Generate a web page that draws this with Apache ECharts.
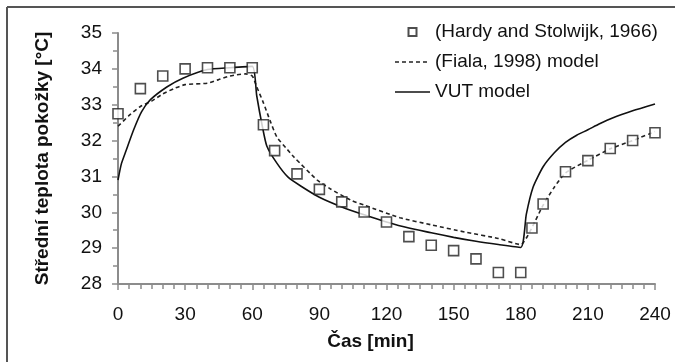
<!DOCTYPE html>
<html>
<head>
<meta charset="utf-8">
<script src="https://cdn.jsdelivr.net/npm/echarts@6/dist/echarts.min.js"></script>
<style>
  html, body { margin: 0; padding: 0; background: #fff; }
  #chart { width: 675px; height: 362px; }
</style>
</head>
<body>
<div id="chart"></div>
<script>
// měřená data (Hardy and Stolwijk, 1966)
const hardyTime = [0, 10, 20, 30, 40, 50, 60, 65, 70, 80, 90, 100, 110, 120, 130, 140, 150, 160, 170, 180, 185, 190, 200, 210, 220, 230, 240];
const hardyTemp = [32.75, 33.45, 33.8, 34.0, 34.03, 34.03, 34.03, 32.44, 31.72, 31.07, 30.64, 30.29, 30.01, 29.73, 29.32, 29.08, 28.93, 28.7, 28.32, 28.32, 29.56, 30.23, 31.13, 31.44, 31.78, 32.0, 32.22];

// model Fiala 1998 (čárkovaně)
const fialaTime = [0, 5, 10, 15, 20, 25, 30, 40, 45, 50, 57, 60, 62, 65, 68, 71, 75, 78.5, 89, 95, 104, 110, 126, 140, 155, 170, 180, 184, 190, 195, 200, 210, 220, 230, 240];
const fialaTemp = [32.4, 32.7, 32.95, 33.1, 33.3, 33.45, 33.56, 33.6, 33.7, 33.8, 33.86, 33.8, 33.5, 33.05, 32.55, 32.1, 31.8, 31.55, 30.9, 30.65, 30.34, 30.2, 29.85, 29.65, 29.45, 29.27, 29.1, 29.45, 30.2, 30.7, 31.1, 31.45, 31.77, 32.0, 32.25];

// VUT model (plná čára)
const vutTime = [0, 1.5, 3.5, 7, 10.5, 14.5, 22, 29, 40, 50, 60, 62, 64.5, 66.5, 71, 76, 82, 90, 100, 110, 120, 130, 140, 150, 160, 170, 180, 182.5, 185.5, 190, 195, 200, 205, 210, 215, 221, 230, 240];
const vutTemp = [30.9, 31.35, 31.7, 32.3, 32.8, 33.14, 33.5, 33.74, 33.98, 34.03, 34.07, 33.25, 32.4, 31.85, 31.37, 30.98, 30.72, 30.42, 30.15, 29.93, 29.73, 29.56, 29.43, 29.3, 29.19, 29.1, 29.02, 29.95, 30.7, 31.27, 31.66, 31.95, 32.15, 32.3, 32.46, 32.63, 32.83, 33.02];

const pairs = (xs, ys) => xs.map((x, i) => [x, ys[i]]);

const font = "'Liberation Sans', Arial, sans-serif";
const axisColor = '#8c8c8c';

// ikony legendy: čtvereček, čárkovaná a plná čára
const squareIcon = 'path://M0,0H10V10H0Z';
const dashIcon = 'path://M0,0H4V1.6H0Z M7,0H11V1.6H7Z M14,0H18V1.6H14Z M21,0H25V1.6H21Z M28,0H32V1.6H28Z M35,0H35.01V1.6H35Z';
const solidIcon = 'path://M0,0H35V1.6H0Z';

const chart = echarts.init(document.getElementById('chart'));
chart.setOption({
  animation: false,
  textStyle: { fontFamily: font },
  grid: { left: 118, right: 20, top: 33, bottom: 78 },
  legend: {
    orient: 'vertical',
    left: 390,
    top: 17,
    itemWidth: 35,
    itemHeight: 8,
    itemGap: 10,
    textStyle: { fontSize: 19, color: '#111', fontFamily: font, lineHeight: 20 },
    data: [
      { name: '(Hardy and Stolwijk, 1966)', icon: squareIcon },
      { name: '(Fiala, 1998) model', icon: dashIcon, itemStyle: { color: '#222', borderWidth: 0 } },
      { name: 'VUT model', icon: solidIcon, itemStyle: { color: '#111', borderWidth: 0 } }
    ]
  },
  xAxis: {
    type: 'value',
    min: 0,
    max: 240,
    interval: 30,
    name: 'Čas [min]',
    nameLocation: 'middle',
    nameGap: 48,
    nameTextStyle: { fontSize: 19, fontWeight: 'bold', color: '#111', padding: [0, 32, 0, 0] },
    axisLine: { lineStyle: { color: axisColor, width: 2 } },
    axisTick: { show: true, length: 6, lineStyle: { color: axisColor, width: 1.5 } },
    minorTick: { show: true, splitNumber: 6, length: 5, lineStyle: { color: axisColor, width: 1.5 } },
    axisLabel: { fontSize: 19, color: '#111', margin: 21 },
    splitLine: { show: false }
  },
  yAxis: {
    type: 'value',
    min: 28,
    max: 35,
    interval: 1,
    name: 'Střední teplota pokožky [°C]',
    nameLocation: 'middle',
    nameGap: 66,
    nameRotate: 90,
    nameTextStyle: { fontSize: 19, fontWeight: 'bold', color: '#111' },
    axisLine: { show: true, lineStyle: { color: axisColor, width: 2 } },
    axisTick: { show: true, length: 6, lineStyle: { color: axisColor, width: 1.5 } },
    minorTick: { show: true, splitNumber: 2, length: 5, lineStyle: { color: axisColor, width: 1.5 } },
    axisLabel: { fontSize: 19, color: '#111', margin: 16 },
    splitLine: { show: false }
  },
  graphic: [
    { type: 'line', shape: { x1: 7, y1: 7, x2: 675, y2: 7 }, style: { stroke: '#555', lineWidth: 2 } },
    { type: 'line', shape: { x1: 7, y1: 7, x2: 7, y2: 362 }, style: { stroke: '#555', lineWidth: 2 } }
  ],
  series: [
    {
      name: '(Fiala, 1998) model',
      type: 'line',
      data: pairs(fialaTime, fialaTemp),
      showSymbol: false,
      symbol: 'none',
      smooth: 0.2,
      lineStyle: { color: '#222', width: 1.6, type: [4, 3] },
      itemStyle: { color: '#222' },
      z: 2
    },
    {
      name: 'VUT model',
      type: 'line',
      data: pairs(vutTime, vutTemp),
      showSymbol: false,
      symbol: 'none',
      smooth: 0.2,
      lineStyle: { color: '#111', width: 1.6 },
      itemStyle: { color: '#111' },
      z: 2
    },
    {
      name: '(Hardy and Stolwijk, 1966)',
      type: 'scatter',
      data: pairs(hardyTime, hardyTemp),
      symbol: 'rect',
      symbolSize: 10,
      itemStyle: { color: '#fff', borderColor: '#222', borderWidth: 1.6 },
      z: 3
    }
  ]
});
</script>
</body>
</html>
